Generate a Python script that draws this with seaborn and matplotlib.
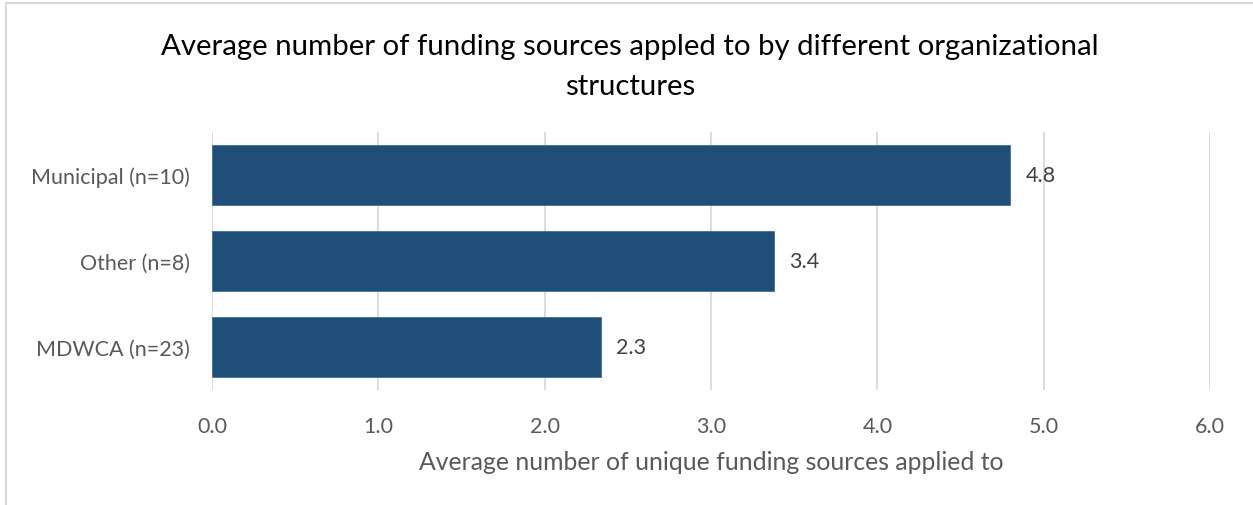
import matplotlib
matplotlib.use("Agg")
import matplotlib.pyplot as plt
from matplotlib.lines import Line2D
import seaborn as sns
import pandas as pd

# Organizational structures and their average number of funding sources
structures = ["Municipal (n=10)", "Other (n=8)", "MDWCA (n=23)"]
avg_sources = [4.8, 3.38, 2.34]
x_ticks = [0.0, 1.0, 2.0, 3.0, 4.0, 5.0, 6.0]

title = "Average number of funding sources appled to by different organizational\nstructures"
x_label = "Average number of unique funding sources applied to"

bar_color = "#1F4E79"
grid_color = "#D9D9D9"
tick_color = "#595959"
label_color = "#404040"

sns.set_theme(style="white")
plt.rcParams["font.family"] = ["Lato", "DejaVu Sans"]

df = pd.DataFrame({"structure": structures, "avg": avg_sources})

fig = plt.figure(figsize=(12.53, 5.06), dpi=100)
ax = fig.add_axes([212 / 1253, 1 - 391 / 506, (1210 - 212) / 1253, (391 - 133) / 506])

sns.barplot(data=df, x="avg", y="structure", orient="h", color=bar_color,
            saturation=1, width=0.7, ax=ax, zorder=3,
            edgecolor="#41719C", linewidth=0.6)

ax.set_xlim(0, 6)
ax.set_ylim(2.5, -0.5)
ax.set_xticks(x_ticks)
ax.set_xticklabels([f"{t:.1f}" for t in x_ticks], fontsize=15.5, color=tick_color)
ax.tick_params(axis="x", length=0, pad=19)
ax.tick_params(axis="y", length=0, pad=16, labelsize=15.5, labelcolor=tick_color)
ax.xaxis.grid(True, color=grid_color, linewidth=1.3, zorder=0)
ax.yaxis.grid(False)
for s in ax.spines.values():
    s.set_visible(False)

ax.set_xlabel(x_label, fontsize=17.8, color=tick_color, labelpad=10)
ax.set_ylabel("")

for c in ax.containers:
    ax.bar_label(c, labels=[f"{v:.1f}" for v in avg_sources], padding=11,
                 fontsize=15.5, color=label_color)

fig.text(0.503, 0.932, title, ha="center", va="top", fontsize=21.2,
         color="#000000", linespacing=1.65)

# Light frame along the top and left edges
fig.add_artist(Line2D([6 / 1253, 6 / 1253], [0, 1 - 4 / 506],
                      transform=fig.transFigure, color=grid_color, linewidth=1.5))
fig.add_artist(Line2D([6 / 1253, 1], [1 - 4 / 506, 1 - 4 / 506],
                      transform=fig.transFigure, color=grid_color, linewidth=1.5))

fig.savefig("out.png", dpi=100, facecolor="white")
